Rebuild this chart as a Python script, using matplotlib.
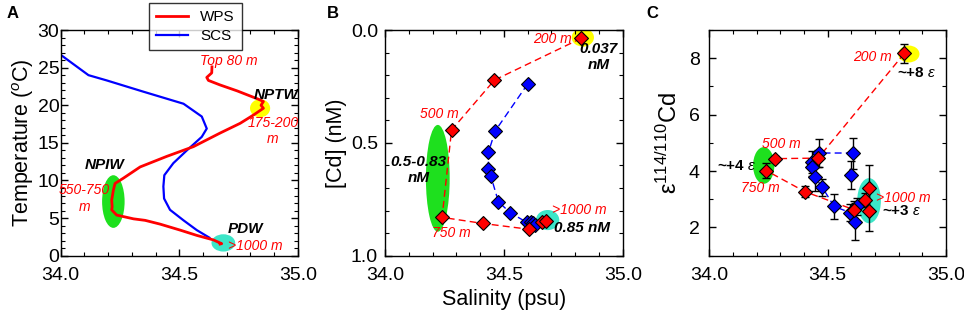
import matplotlib
matplotlib.use("Agg")
import matplotlib.pyplot as plt
from matplotlib.patches import Ellipse
from matplotlib.ticker import MultipleLocator

plt.rcParams['font.family'] = ['Liberation Sans', 'DejaVu Sans']
plt.rcParams['mathtext.fontset'] = 'custom'
plt.rcParams['mathtext.rm'] = 'Liberation Sans'
plt.rcParams['mathtext.it'] = 'Liberation Sans:italic'
plt.rcParams['mathtext.bf'] = 'Liberation Sans:bold'

# panel A: T-S profiles
wps_sal_a = [34.638, 34.637, 34.616, 34.623, 34.672, 34.745, 34.834, 34.855, 34.845, 34.855,
             34.813, 34.757, 34.672, 34.56, 34.447, 34.335, 34.264, 34.229, 34.222, 34.215,
             34.217, 34.215, 34.236, 34.307, 34.356, 34.419, 34.504, 34.574, 34.644, 34.679, 34.672]
wps_temp_a = [25.1, 24.3, 23.7, 23.3, 22.7, 21.9, 20.8, 20.5, 20.0, 19.6,
              18.7, 17.6, 16.3, 14.5, 13.2, 11.8, 10.3, 9.6, 8.7, 7.4,
              6.5, 6.1, 5.4, 4.9, 4.7, 4.2, 3.4, 2.7, 2.1, 1.6, 1.55]
scs_sal_a = [34.0, 34.117, 34.194, 34.349, 34.518, 34.595, 34.616, 34.595, 34.532,
             34.475, 34.437, 34.433, 34.436, 34.461, 34.518, 34.574, 34.627]
scs_temp_a = [26.7, 24.0, 23.3, 21.8, 20.2, 18.5, 16.9, 15.8, 14.0,
              12.3, 10.7, 9.2, 7.6, 6.1, 4.7, 3.4, 2.4]

# panel B: dissolved Cd
wps_sal_b = [34.825, 34.46, 34.28, 34.24, 34.411, 34.607, 34.659, 34.677]
wps_cd = [0.037, 0.222, 0.443, 0.830, 0.857, 0.883, 0.849, 0.845]
scs_sal_b = [34.60, 34.463, 34.435, 34.435, 34.445, 34.477, 34.526, 34.596, 34.613, 34.624, 34.63]
scs_cd = [0.239, 0.448, 0.542, 0.617, 0.647, 0.761, 0.809, 0.852, 0.849, 0.857, 0.862]

# panel C: Cd isotopes
wps_sal_c = [34.824, 34.46, 34.278, 34.24, 34.404, 34.611, 34.658, 34.676, 34.676]
wps_eps = [8.17, 4.46, 4.44, 4.02, 3.27, 2.63, 2.98, 3.40, 2.59]
wps_err = [0.35, 0.3, 0.1, 0.27, 0.2, 0.3, 0.25, 0.8, 0.7]
scs_sal_c = [34.606, 34.465, 34.433, 34.435, 34.447, 34.477, 34.527, 34.594, 34.616, 34.623, 34.597]
scs_eps = [4.64, 4.64, 4.32, 4.13, 3.78, 3.43, 2.75, 2.53, 2.21, 2.75, 3.87]
scs_err = [0.55, 0.5, 0.4, 0.3, 0.5, 0.3, 0.45, 0.3, 0.65, 0.3, 0.5]

yellow = '#FFFF00'
green = '#1EE01E'
cyan = '#3CE6C8'
red = '#FF0000'
blue = '#0000FF'

fig = plt.figure(figsize=(9.64, 3.16), dpi=100)
axA = fig.add_axes([0.063, 0.1908, 0.2459, 0.7142])
axB = fig.add_axes([0.3994, 0.1908, 0.2466, 0.7142])
axC = fig.add_axes([0.7358, 0.1908, 0.2455, 0.7142])


def style(ax, ypad):
    ax.set_xlim(34.0, 35.0)
    ax.xaxis.set_major_locator(MultipleLocator(0.5))
    ax.xaxis.set_minor_locator(MultipleLocator(0.1))
    ax.tick_params(which='both', direction='in', top=True, right=True, labelsize=14)
    ax.tick_params(which='major', length=5, width=1)
    ax.tick_params(which='minor', length=3, width=0.8)
    ax.tick_params(axis='x', pad=8)
    ax.tick_params(axis='y', pad=ypad)
    ax.xaxis.set_major_formatter(matplotlib.ticker.FormatStrFormatter('%.1f'))
    for s in ax.spines.values():
        s.set_linewidth(1)


# ---- A
axA.add_patch(Ellipse((34.841, 19.6), 0.085, 2.4, color=yellow, zorder=1, lw=0))
axA.add_patch(Ellipse((34.222, 7.2), 0.095, 7.0, color=green, zorder=1, lw=0))
axA.add_patch(Ellipse((34.686, 1.7), 0.1, 2.3, color=cyan, zorder=1, lw=0))
lw, = axA.plot(wps_sal_a, wps_temp_a, color=red, lw=2, label='WPS', zorder=3)
ls, = axA.plot(scs_sal_a, scs_temp_a, color=blue, lw=1.6, label='SCS', zorder=2)
style(axA, 1)
axA.set_ylim(0, 30)
axA.yaxis.set_major_locator(MultipleLocator(5))
axA.yaxis.set_minor_locator(MultipleLocator(1))
axA.set_ylabel('Temperature ($^o$C)', fontsize=15.5, labelpad=1)
rt = dict(color=red, style='italic', fontsize=10, ha='center', va='center')
bt = dict(color='black', style='italic', weight='bold', fontsize=11, ha='center', va='center')
axA.text(34.707, 25.9, 'Top 80 m', **rt)
axA.text(34.895, 16.6, '175-200\nm', **rt)
axA.text(34.10, 7.6, '550-750\nm', **rt)
axA.text(34.82, 1.3, '>1000 m', **rt)
axA.text(34.91, 21.4, 'NPTW', **bt)
axA.text(34.187, 12.0, 'NPIW', **bt)
axA.text(34.778, 3.5, 'PDW', **bt)
fig.legend(handles=[lw, ls], loc='upper left', bbox_to_anchor=(0.1545, 0.99),
           fontsize=11, frameon=True, fancybox=False, edgecolor='black',
           handlelength=2.1, borderpad=0.45, labelspacing=0.35, handletextpad=0.8,
           borderaxespad=0)
fig.legends[0].get_frame().set_linewidth(1)

# ---- B
axB.add_patch(Ellipse((34.832, 0.033), 0.094, 0.081, color=yellow, zorder=1, lw=0))
axB.add_patch(Ellipse((34.222, 0.657), 0.1, 0.473, color=green, zorder=1, lw=0))
axB.add_patch(Ellipse((34.684, 0.842), 0.098, 0.089, color=cyan, zorder=1, lw=0))
axB.plot(scs_sal_b, scs_cd, color=blue, lw=1, ls=(0, (5, 3)), zorder=2)
axB.plot(wps_sal_b, wps_cd, color=red, lw=1, ls=(0, (5, 3)), zorder=2)
axB.plot(scs_sal_b, scs_cd, 'D', color=blue, mec='black', mew=0.8, ms=7.5, zorder=4, ls='none')
axB.plot(wps_sal_b, wps_cd, 'D', color=red, mec='black', mew=0.8, ms=7.5, zorder=4, ls='none')
style(axB, 5)
axB.set_ylim(1.0, 0.0)
axB.yaxis.set_major_locator(MultipleLocator(0.5))
axB.yaxis.set_minor_locator(MultipleLocator(0.1))
axB.yaxis.set_major_formatter(matplotlib.ticker.FormatStrFormatter('%.1f'))
axB.set_ylabel('[Cd] (nM)', fontsize=15.5, labelpad=3)
axB.set_xlabel('Salinity (psu)', fontsize=15.5, labelpad=4)
axB.text(34.704, 0.041, '200 m', **rt)
axB.text(34.229, 0.374, '500 m', **rt)
axB.text(34.28, 0.90, '750 m', **rt)
axB.text(34.818, 0.798, '>1000 m', **rt)
axB.text(34.898, 0.118, '0.037\nnM', **bt)
axB.text(34.14, 0.62, '0.5-0.83\nnM', **bt)
axB.text(34.83, 0.876, '0.85 nM', **bt)

# ---- C
axC.add_patch(Ellipse((34.843, 8.15), 0.09, 0.6, color=yellow, zorder=1, lw=0))
axC.add_patch(Ellipse((34.23, 4.2), 0.09, 1.3, color=green, zorder=1, lw=0))
axC.add_patch(Ellipse((34.675, 2.95), 0.1, 1.6, color=cyan, zorder=1, lw=0))
axC.plot(scs_sal_c[:10], scs_eps[:10], color=blue, lw=1, ls=(0, (5, 3)), zorder=2)
axC.plot(wps_sal_c, wps_eps, color=red, lw=1, ls=(0, (5, 3)), zorder=2)
axC.errorbar(scs_sal_c, scs_eps, yerr=scs_err, fmt='none', ecolor='black', elinewidth=1,
             capsize=3, capthick=1, zorder=3)
axC.errorbar(wps_sal_c, wps_eps, yerr=wps_err, fmt='none', ecolor='black', elinewidth=1,
             capsize=3, capthick=1, zorder=3)
axC.plot(scs_sal_c, scs_eps, 'D', color=blue, mec='black', mew=0.8, ms=7.5, zorder=4, ls='none')
axC.plot(wps_sal_c, wps_eps, 'D', color=red, mec='black', mew=0.8, ms=7.5, zorder=4, ls='none')
style(axC, 7)
axC.set_ylim(1, 9)
axC.yaxis.set_major_locator(MultipleLocator(2))
axC.yaxis.set_minor_locator(MultipleLocator(1))
axC.set_ylabel('ε$^{114/110}$Cd', fontsize=17, labelpad=5)
axC.text(34.69, 8.06, '200 m', **rt)
axC.text(34.306, 4.97, '500 m', **rt)
axC.text(34.214, 3.40, '750 m', **rt)
axC.text(34.818, 3.05, '>1000 m', **rt)
bc = dict(color='black', weight='bold', fontsize=11, ha='center', va='center')
axC.text(34.877, 7.46, r'~+8 $\varepsilon$', **bc)
axC.text(34.116, 4.17, r'~+4 $\varepsilon$', **bc)
axC.text(34.813, 2.57, r'~+3 $\varepsilon$', **bc)

fig.text(13 / 964, 1 - 14 / 316, 'A', fontsize=12, weight='bold', ha='center', va='center')
fig.text(333 / 964, 1 - 14 / 316, 'B', fontsize=12, weight='bold', ha='center', va='center')
fig.text(652 / 964, 1 - 14 / 316, 'C', fontsize=12, weight='bold', ha='center', va='center')

fig.savefig('out.png', dpi=100)
